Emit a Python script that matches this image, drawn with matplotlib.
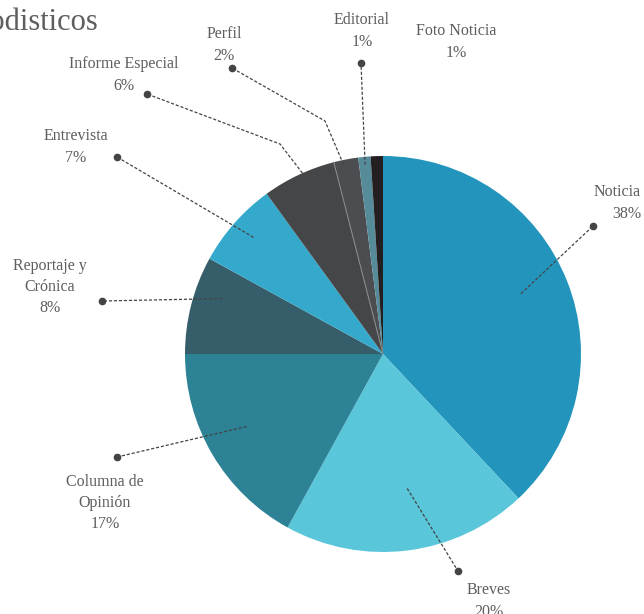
import numpy as np
import matplotlib.pyplot as plt

# Datos del grafico (porcentajes por genero)
generos = ["Noticia", "Breves", "Columna de\nOpinión", "Reportaje y\nCrónica",
           "Entrevista", "Informe Especial", "Perfil", "Editorial", "Foto Noticia"]
porcentajes = [38, 20, 17, 8, 7, 6, 2, 1, 1]
colores = ["#2394bb", "#59c6da", "#2d8296", "#365e6a", "#35a9cc",
           "#454648", "#4b4d50", "#568b99", "#231f20"]

# layout en pixeles (origen arriba a la izquierda)
W, H = 644, 614
cx, cy, R = 383, 354, 198
texto_pos = [(641, 203, 'right'), (489, 601, 'center'), (105, 503, 'center'),
             (50, 287, 'center'), (76, 147, 'center'), (124, 75, 'center'),
             (224, 45, 'center'), (362, 31, 'center'), (456, 42, 'center')]
puntos = [(593, 226), (458, 571), (117, 457), (102, 301), (117, 157),
          (147, 94), (232, 68), (361, 63), None]
codos = [None, None, None, None, None, (280, 144), (325, 121), None, None]
radio_lider = [0.76, 0.69, 0.78, 0.86, 0.88, 1.0, 0.98, 0.96, None]
desvio = [2.0, 3.0, -2.6, -4.6, -0.6, -1.2, 1.0, 0.0, 0.0]

gris = "#5e5e5e"
linea = "#444444"
fuente = "Liberation Serif"

fig = plt.figure(figsize=(W / 100, H / 100), dpi=100)
ax = fig.add_axes([0, 0, 1, 1])

wedges, _ = ax.pie(porcentajes, colors=colores, startangle=90, counterclock=False,
                   center=(cx, H - cy), radius=R,
                   wedgeprops=dict(linewidth=0))
ax.set_xlim(0, W)
ax.set_ylim(0, H)
ax.set_aspect('equal')
ax.axis('off')

# linea clara entre Informe Especial y Perfil
t = np.deg2rad(wedges[6].theta2)
ax.plot([cx, cx + R * np.cos(t)], [H - cy, H - cy + R * np.sin(t)],
        color="#8a8c8e", lw=0.7, zorder=3)

for i, w in enumerate(wedges):
    x, y, ha = texto_pos[i]
    ax.text(x, H - y, generos[i] + "\n" + str(porcentajes[i]) + "%",
            ha=ha, va='center', multialignment=ha, fontsize=11.5,
            family=fuente, color=gris, linespacing=1.45)
    if puntos[i] is None:
        continue
    ang = np.deg2rad((w.theta1 + w.theta2) / 2 + desvio[i])
    r = radio_lider[i] * R
    x0, y0 = cx + r * np.cos(ang), (H - cy) + r * np.sin(ang)
    xs, ys = [x0], [y0]
    if codos[i] is not None:
        xs.append(codos[i][0])
        ys.append(H - codos[i][1])
    xs.append(puntos[i][0])
    ys.append(H - puntos[i][1])
    ax.plot(xs, ys, color=linea, lw=0.9, ls=(0, (2.5, 1.5)), zorder=4)
    ax.plot(xs[-1], ys[-1], 'o', color=linea, ms=4.5, zorder=5)

# titulo (cortado a la izquierda como en el original)
ax.text(98, H - 30, "Géneros Periodisticos", ha='right', va='baseline',
        fontsize=22, family=fuente, color=gris)

fig.savefig("out.png", dpi=100)
